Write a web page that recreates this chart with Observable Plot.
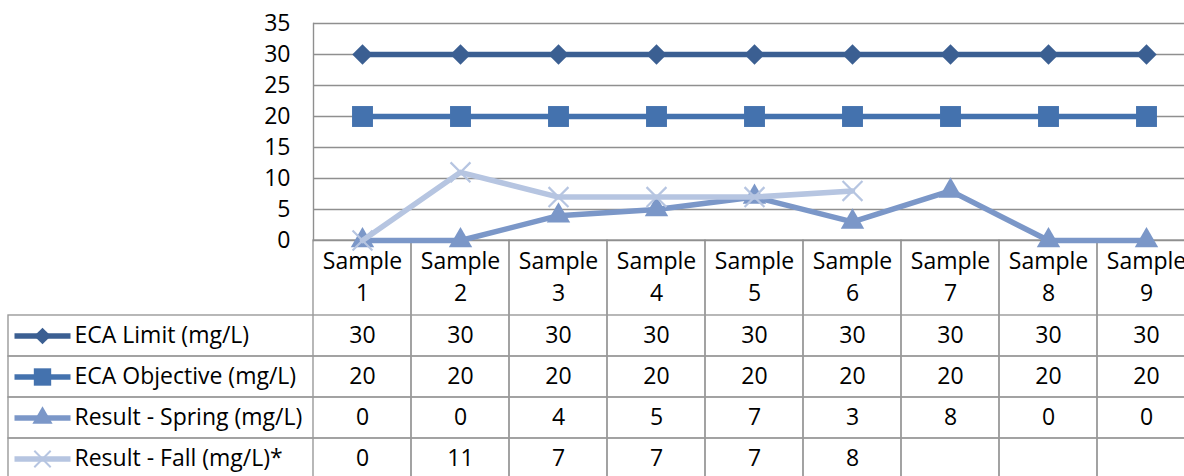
<!DOCTYPE html>
<html>
<head>
<meta charset="utf-8">
<script src="https://cdn.jsdelivr.net/npm/d3@7"></script>
<script src="https://cdn.jsdelivr.net/npm/@observablehq/plot@0.6"></script>
<style>
  html, body { margin: 0; padding: 0; background: #fff; }
  #wrap { position: relative; width: 1184px; height: 476px; overflow: hidden; }
  #chart, #table { position: absolute; left: 0; }
  #chart { top: 0; z-index: 2; }
  #table { top: 240px; z-index: 1; }
  svg { overflow: visible; }
</style>
</head>
<body>
<div id="wrap"><div id="table"></div><div id="chart"></div></div>
<script>
const samples = ["Sample 1","Sample 2","Sample 3","Sample 4","Sample 5","Sample 6","Sample 7","Sample 8","Sample 9"];
const seriesNames = ["ECA Limit (mg/L)","ECA Objective (mg/L)","Result - Spring (mg/L)","Result - Fall (mg/L)*"];
const ecaLimit = [30,30,30,30,30,30,30,30,30];
const ecaObjective = [20,20,20,20,20,20,20,20,20];
const resultSpring = [0,0,4,5,7,3,8,0,0];
const resultFall = [0,11,7,7,7,8,null,null,null];
const yTicks = [0,5,10,15,20,25,30,35];

const seriesValues = [ecaLimit, ecaObjective, resultSpring, resultFall];
const colors = ["#3b5f92","#4472ae","#7b97c8","#b6c5e1"];
const symbols = ["diamond2","square","triangle","times"];
const FONT = "Open Sans, sans-serif";
const FS = 23;

const rows = [];
seriesNames.forEach((s, i) => samples.forEach((x, j) => rows.push({series: s, sample: x, value: seriesValues[i][j]})));

// ---- Chart ----
const chartMarks = [
  Plot.gridY(yTicks, {stroke: "#8f8f8f", strokeOpacity: 1, strokeWidth: 1.4}),
  Plot.frame({anchor: "left", stroke: "#8f8f8f", strokeWidth: 1.4}),
  Plot.axisY(yTicks, {tickSize: 0, tickPadding: 23, fontSize: FS, fill: "#000", label: null})
];
const chartR = [9.2, 11.8, 8.7, 9.1];
seriesNames.forEach((s, i) => {
  const d = rows.filter(r => r.series === s);
  chartMarks.push(Plot.line(d, {x: "sample", y: "value", stroke: colors[i], strokeWidth: 5.5}));
  if (symbols[i] === "times") {
    chartMarks.push(Plot.dot(d, {x: "sample", y: "value", symbol: "times", r: chartR[i], stroke: colors[i], strokeWidth: 2.2, fill: "none"}));
  } else {
    chartMarks.push(Plot.dot(d, {x: "sample", y: "value", symbol: symbols[i], r: chartR[i], fill: colors[i], stroke: "none"}));
  }
});

const chart = Plot.plot({
  width: 1184, height: 240,
  marginLeft: 313, marginRight: -12, marginTop: 23, marginBottom: 0,
  style: {fontFamily: FONT, fontSize: FS + "px", background: "transparent", overflow: "visible"},
  x: {type: "band", domain: samples, range: [313, 1195], padding: 0, axis: null},
  y: {domain: [0, 35], range: [240, 23], axis: null},
  marks: chartMarks
});
document.getElementById("chart").appendChild(chart);

// ---- Data table ----
const keyLine = {draw(ctx, size) { ctx.rect(-28, -2.75, 56, 5.5); }};
const tableMarks = [
  Plot.cell(samples, {x: d => d, stroke: "#9a9a9a", strokeWidth: 1.4, fill: "none"}),
  Plot.cell(seriesNames, {y: d => d, stroke: "#9a9a9a", strokeWidth: 1.4, fill: "none"}),
  Plot.text(samples, {x: d => d, text: d => d.replace(" ", "\n"), frameAnchor: "top", dy: 34, lineAnchor: "middle", lineHeight: 1.43, fontSize: FS, fill: "#000"}),
  Plot.text(rows.filter(r => r.value != null), {x: "sample", y: "series", text: d => String(d.value), fontSize: FS, fill: "#000"}),
  Plot.text(seriesNames, {y: d => d, text: d => d, frameAnchor: "left", dx: 66, textAnchor: "start", fontSize: FS, fill: "#000"})
];
const keyR = [7.5, 9.8, 7.5, 7.5];
seriesNames.forEach((s, i) => {
  tableMarks.push(Plot.dot([s], {y: d => d, frameAnchor: "left", dx: 34, symbol: keyLine, r: 5, fill: colors[i], stroke: "none"}));
  if (symbols[i] === "times") {
    tableMarks.push(Plot.dot([s], {y: d => d, frameAnchor: "left", dx: 34, symbol: "times", r: keyR[i], stroke: colors[i], strokeWidth: 2, fill: "none"}));
  } else {
    tableMarks.push(Plot.dot([s], {y: d => d, frameAnchor: "left", dx: 34, symbol: symbols[i], r: keyR[i], fill: colors[i], stroke: "none"}));
  }
});

const table = Plot.plot({
  width: 1184, height: 236,
  marginLeft: 8, marginRight: -4, marginTop: 0, marginBottom: -6,
  style: {fontFamily: FONT, fontSize: FS + "px", background: "transparent", overflow: "visible"},
  x: {type: "band", domain: samples, range: [313, 1195], padding: 0, axis: null},
  y: {type: "band", domain: seriesNames, range: [74, 239.2], padding: 0, axis: null},
  marks: tableMarks
});
document.getElementById("table").appendChild(table);
</script>
</body>
</html>
